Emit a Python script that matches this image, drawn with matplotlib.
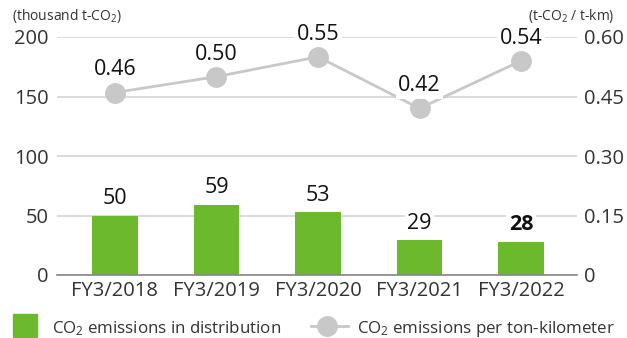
import matplotlib
matplotlib.use("Agg")
import matplotlib.pyplot as plt
from matplotlib.lines import Line2D
from matplotlib.patches import Rectangle
import numpy as np

# data
years = ["FY3/2018", "FY3/2019", "FY3/2020", "FY3/2021", "FY3/2022"]
emissions = [50, 59, 53, 29, 28]
per_tkm = [0.46, 0.50, 0.55, 0.42, 0.54]

plt.rcParams['font.family'] = ['Open Sans', 'DejaVu Sans']
plt.rcParams['mathtext.fontset'] = 'custom'
plt.rcParams['mathtext.rm'] = 'Open Sans'
plt.rcParams['mathtext.it'] = 'Open Sans'

txt = '#333333'
green = '#6db92e'
grey = '#c8c8c8'
W, H = 627, 338

fig = plt.figure(figsize=(6.27, 3.38), dpi=100)
ax = fig.add_axes([57/W, 63/H, 520/W, 238/H])
ax2 = ax.twinx()

x = np.arange(len(years))
ax.bar(x, emissions, width=0.45, color=green, zorder=2)
ax.set_xlim(-0.57, 4.55)
ax.set_ylim(0, 200)
ax.set_yticks([0, 50, 100, 150, 200])
ax.grid(axis='y', color='#d4d4d4', linewidth=1.2, zorder=0)
ax.set_axisbelow(True)
for s in ['top', 'left', 'right']:
    ax.spines[s].set_visible(False)
    ax2.spines[s].set_visible(False)
ax.spines['bottom'].set_color('#888888')
ax.spines['bottom'].set_linewidth(1.2)
ax2.spines['bottom'].set_visible(False)
ax.set_xticks(x)
ax.set_xticklabels(years)
ax.tick_params(axis='both', length=0, labelsize=14.5, colors=txt)
ax.tick_params(axis='x', pad=4, labelsize=14.5)
ax.tick_params(axis='y', pad=6)

for i, v in enumerate(emissions):
    ax.text(i, v + 9.5, str(v), ha='center', va='baseline', fontsize=15.5, color='#111111',
            fontweight='bold' if i == len(emissions) - 1 else 'normal',
            bbox=dict(boxstyle='square,pad=0.12', fc='white', ec='none'), zorder=3)

ax2.set_ylim(0, 0.6)
ax2.set_yticks([0, 0.15, 0.30, 0.45, 0.60])
ax2.set_yticklabels(["0", "0.15", "0.30", "0.45", "0.60"])
ax2.tick_params(axis='y', length=0, labelsize=14.5, colors=txt, pad=5)
ax2.plot(x, per_tkm, color=grey, linewidth=2, marker='o', markersize=14, zorder=3)
for i, v in enumerate(per_tkm):
    ax2.text(i, v + 0.043, f"{v:.2f}", ha='center', va='baseline', fontsize=15.5, color='#111111',
             bbox=dict(boxstyle='square,pad=0.12', fc='white', ec='none'), zorder=4)

fig.text(12/W, 1 - 20/H, r"(thousand t-CO$_2$)", fontsize=10, color=txt, va='baseline')
fig.text(615/W, 1 - 20/H, r"(t-CO$_2$ / t-km)", fontsize=10, color=txt, va='baseline', ha='right')

# legend, drawn by hand
fig.add_artist(Rectangle((13/W, 1 - 337/H), 24/W, 23/H, color=green, transform=fig.transFigure))
fig.text(52/W, 1 - 333/H, r"CO$_2$ emissions in distribution", fontsize=12.2, color=txt, va='baseline')
fig.add_artist(Line2D([311/W, 348/W], [1 - 326/H, 1 - 326/H], color=grey, linewidth=2,
                      transform=fig.transFigure))
fig.add_artist(Line2D([327/W], [1 - 326/H], color=grey, marker='o', markersize=14,
                      transform=fig.transFigure))
fig.text(357/W, 1 - 333/H, r"CO$_2$ emissions per ton-kilometer", fontsize=12.2, color=txt, va='baseline')

fig.savefig("out.png", dpi=100)
